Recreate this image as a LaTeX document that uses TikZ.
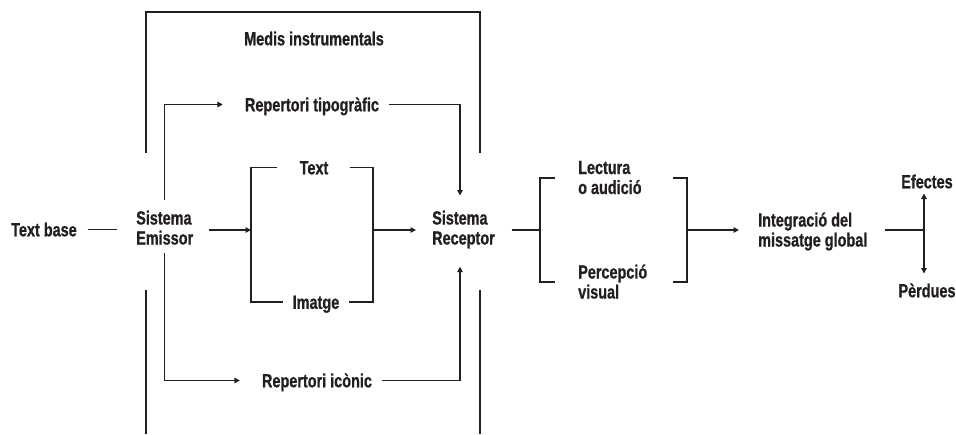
\documentclass[tikz,border=0pt]{standalone}
\usepackage{fontspec}
\setmainfont{Liberation Sans}[FakeStretch=0.76, BoldFeatures={FakeBold=0.8}]
\usetikzlibrary{arrows.meta}
\definecolor{ink}{HTML}{231F20}
\begin{document}
\begin{tikzpicture}[x=1pt,y=-1pt,
  lbl/.style={inner sep=0pt, text=ink, font=\fontsize{19}{20}\selectfont\bfseries},
  one/.style={lbl, text height=13.6pt, text depth=0pt},
  two/.style={lbl, align=left, anchor=base west},
  ln/.style={draw=ink, line width=1.4pt},
  arr/.style={ln, -{Triangle[length=5.5pt,width=5.5pt]}}]
\useasboundingbox (0,0) rectangle (956,434);

% labels (two-line labels are placed by the baseline of their last line)
\node[one] (medis)   at (314,38.5)  {Medis instrumentals};
\node[one] (tipo)    at (312,104.5) {Repertori tipogràfic};
\node[one] (text)    at (314,167.5) {Text};
\node[one] (imatge)  at (316,302) {Imatge};
\node[one] (iconic)  at (317,380.5) {Repertori icònic};
\node[one, anchor=west] (textbase) at (11,229.5) {Text base};
\node[two] (emissor)  at (136,244.5) {Sistema\\Emissor};
\node[two] (receptor) at (432,244.5) {Sistema\\Receptor};
\node[two] (lectura)  at (578,194) {Lectura\\o audició};
\node[two] (percep)   at (578,298.5) {Percepció\\visual};
\node[two] (integ)    at (758,246.5) {Integració del\\missatge global};
\node[one] (efectes) at (927,181.5) {Efectes};
\node[one] (perdues) at (927,290.5) {Pèrdues};

% routing points
\coordinate (b1) at (251,230);
\coordinate (b2) at (373,230);
\coordinate (c1) at (540,230);
\coordinate (c2) at (687,230);
\coordinate (fork) at (924,230);
\coordinate (rx) at (460,0);
\coordinate (fTL) at (146,153);
\coordinate (fTR) at (480,153);
\coordinate (fBL) at (146,290);
\coordinate (fBR) at (480,290);
\coordinate (c1t) at (555,178);
\coordinate (c1b) at (555,282);
\coordinate (c2t) at (673,178);
\coordinate (c2b) at (673,282);

% frame of the instrumental media
\draw[ln] (fTL) -- (fTL |- 0,12) -| (fTR);
\draw[ln] (fBL) -- (fBL |- 0,434);
\draw[ln] (fBR) -- (fBR |- 0,434);

% emitter side
\draw[ln, shorten <=11pt, shorten >=19pt] (textbase.east) -- (textbase.east -| emissor.west);
\draw[arr, shorten <=16pt] (emissor.east |- b1) -- (b1);
\draw[ln] ([xshift=-22pt]text.west) -| (b1) |- ([xshift=-10pt]imatge.west);
\draw[ln] ([xshift=21pt]text.east) -| (b2) |- ([xshift=10pt]imatge.east);
\draw[arr, shorten >=16pt] (b2) -- (b2 -| receptor.west);

% repertoires
\draw[arr, shorten <=11pt, shorten >=22pt] (emissor.north) |- (tipo.west);
\draw[arr, shorten <=10pt, shorten >=15pt] (tipo.east) -| (rx |- receptor.north);
\draw[arr, shorten <=8pt, shorten >=22pt] (emissor.south) |- (iconic.west);
\draw[arr, shorten <=10pt, shorten >=18pt] (iconic.east) -| (rx |- receptor.south);

% receiver side
\draw[ln, shorten <=17pt] (receptor.east |- c1) -- (c1);
\draw[ln] (c1t) -| (c1) |- (c1b);
\draw[ln] (c2t) -| (c2) |- (c2b);
\draw[arr, shorten >=19pt] (c2) -- (c2 -| integ.west);
\draw[ln, shorten <=17pt] (integ.east |- fork) -- (fork);
\draw[arr, shorten >=5pt] (fork) -- (fork |- efectes.south);
\draw[arr, shorten >=10pt] (fork) -- (fork |- perdues.north);
\end{tikzpicture}
\end{document}
